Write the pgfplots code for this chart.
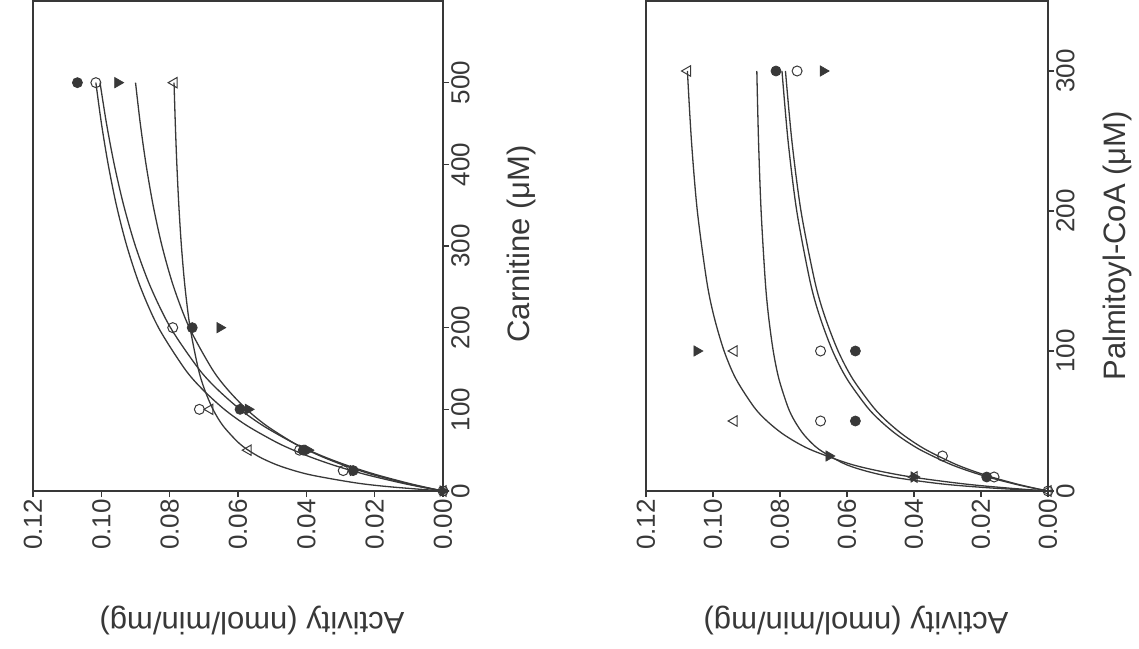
\documentclass[border=0pt]{standalone}
\usepackage{fontspec}
\setmainfont{Liberation Sans}
\usepackage{pgfplots}
\pgfplotsset{compat=1.18}
\definecolor{ink}{gray}{0.22}
\pgfplotsset{
  rotchart/.style={
    scale only axis, anchor=south west, height=490pt,
    xmin=0, xmax=0.12, x dir=reverse, ymin=0,
    xtick={0,0.02,0.04,0.06,0.08,0.1,0.12},
    xticklabels={0.00,0.02,0.04,0.06,0.08,0.10,0.12},
    tick align=outside, xtick pos=left, ytick pos=right, yticklabel pos=right,
    major tick length=6pt,
    axis line style={ink, line width=1.3pt},
    every tick/.style={ink, line width=1.2pt},
    xticklabel style={rotate=90, anchor=east, font=\fontsize{26}{26}\selectfont, inner sep=2pt, text=ink},
    yticklabel style={rotate=90, anchor=north, font=\fontsize{26}{26}\selectfont, inner sep=2pt, text=ink},
    every axis plot/.append style={ink, line width=1.3pt},
  },
  fc/.style={only marks, mark=*, mark size=5pt, mark options={fill=ink, draw=ink, line width=0.8pt}},
  oc/.style={only marks, mark=o, mark size=5pt, mark options={draw=ink, fill=white, line width=1pt}},
  ft/.style={only marks, mark=triangle*, mark size=6pt, mark options={rotate=-90, fill=ink, draw=ink, line width=0.6pt}},
  ot/.style={only marks, mark=triangle, mark size=6pt, mark options={rotate=90, draw=ink, fill=white, line width=1pt}},
  fit/.style={no marks, smooth},
}
\begin{document}
\begin{tikzpicture}
\path[use as bounding box] (0,0) rectangle (1139pt,648pt);
% ---------- Carnitine panel ----------
\begin{axis}[rotchart, at={(33pt,157pt)}, width=410pt, ymax=600,
  ytick={0,100,200,300,400,500}, yticklabels={0,100,200,300,400,500}]
\addplot[fit] coordinates {(0,0)(0.01517,5)(0.02561,10)(0.03905,20)(0.04733,30)(0.05295,40)(0.05700,50)(0.06007,60)(0.06441,80)(0.06732,100)(0.06985,125)(0.07164,150)(0.07402,200)(0.07552,250)(0.07656,300)(0.07732,350)(0.07790,400)(0.07835,450)(0.07872,500)};
\addplot[fit] coordinates {(0,0)(0.00600,5)(0.01135,10)(0.02049,20)(0.02800,30)(0.03428,40)(0.03961,50)(0.04419,60)(0.05166,80)(0.05749,100)(0.06319,125)(0.06767,150)(0.07425,200)(0.07884,250)(0.08224,300)(0.08485,350)(0.08692,400)(0.08860,450)(0.08999,500)};
\addplot[fit] coordinates {(0,0)(0.00555,5)(0.01062,10)(0.01953,20)(0.02712,30)(0.03365,40)(0.03933,50)(0.04432,60)(0.05268,80)(0.05940,100)(0.06615,125)(0.07158,150)(0.07975,200)(0.08561,250)(0.09003,300)(0.09347,350)(0.09623,400)(0.09849,450)(0.10038,500)};
\addplot[fit] coordinates {(0,0)(0.00654,5)(0.01239,10)(0.02245,20)(0.03078,30)(0.03778,40)(0.04375,50)(0.04891,60)(0.05736,80)(0.06400,100)(0.07052,125)(0.07567,150)(0.08326,200)(0.08859,250)(0.09254,300)(0.09559,350)(0.09800,400)(0.09997,450)(0.10160,500)};
\addplot[ot] coordinates {(0,0)(0.0570,50)(0.0682,100)(0.0787,500)};
\addplot[ft] coordinates {(0,0)(0.0263,25)(0.0395,50)(0.0570,100)(0.0653,200)(0.0952,500)};
\addplot[oc] coordinates {(0,0)(0.0292,25)(0.0420,50)(0.0713,100)(0.0791,200)(0.1016,500)};
\addplot[fc] coordinates {(0.0263,25)(0.0409,50)(0.0594,100)(0.0734,200)(0.1070,500)};
\end{axis}
% ---------- Palmitoyl-CoA panel ----------
\begin{axis}[rotchart, at={(646pt,157pt)}, width=402pt, ymax=350,
  ytick={0,100,200,300}, yticklabels={0,100,200,300}]
\addplot[fit] coordinates {(0,0)(0.01141,2)(0.02480,5)(0.04075,10)(0.05186,15)(0.06005,20)(0.07131,30)(0.07869,40)(0.08390,50)(0.08777,60)(0.09314,80)(0.09669,100)(0.09974,125)(0.10188,150)(0.10468,200)(0.10643,250)(0.10764,300)};
\addplot[fit] coordinates {(0,0)(0.01594,2)(0.03146,5)(0.04657,10)(0.05545,15)(0.06129,20)(0.06850,30)(0.07279,40)(0.07563,50)(0.07764,60)(0.08032,80)(0.08202,100)(0.08343,125)(0.08440,150)(0.08564,200)(0.08641,250)(0.08692,300)};
\addplot[fit] coordinates {(0,0)(0.00429,2)(0.01000,5)(0.01800,10)(0.02455,15)(0.03000,20)(0.03857,30)(0.04500,40)(0.05000,50)(0.05400,60)(0.06000,80)(0.06429,100)(0.06818,125)(0.07105,150)(0.07500,200)(0.07759,250)(0.07941,300)};
\addplot[fit] coordinates {(0,0)(0.00398,2)(0.00933,5)(0.01691,10)(0.02317,15)(0.02844,20)(0.03682,30)(0.04318,40)(0.04817,50)(0.05219,60)(0.05828,80)(0.06266,100)(0.06667,125)(0.06964,150)(0.07374,200)(0.07645,250)(0.07837,300)};
\addplot[ot] coordinates {(0,0)(0.0400,10)(0.0937,50)(0.0937,100)(0.1076,300)};
\addplot[ft] coordinates {(0.0400,10)(0.0654,25)(0.1048,100)(0.0671,300)};
\addplot[oc] coordinates {(0,0)(0.0161,10)(0.0315,25)(0.0679,50)(0.0679,100)(0.0749,300)};
\addplot[fc] coordinates {(0.0183,10)(0.0575,50)(0.0575,100)(0.0812,300)};
\end{axis}
% ---------- axis titles ----------
\node[rotate=180, text=ink, font=\fontsize{31}{31}\selectfont] at (252pt,27pt) {Activity (nmol/min/mg)};
\node[rotate=180, text=ink, font=\fontsize{31}{31}\selectfont] at (856pt,27pt) {Activity (nmol/min/mg)};
\node[rotate=90, text=ink, font=\fontsize{31}{31}\selectfont] at (521pt,404pt) {Carnitine (μM)};
\node[rotate=90, text=ink, font=\fontsize{31}{31}\selectfont] at (1117pt,402pt) {Palmitoyl-CoA (μM)};
\end{tikzpicture}
\end{document}
